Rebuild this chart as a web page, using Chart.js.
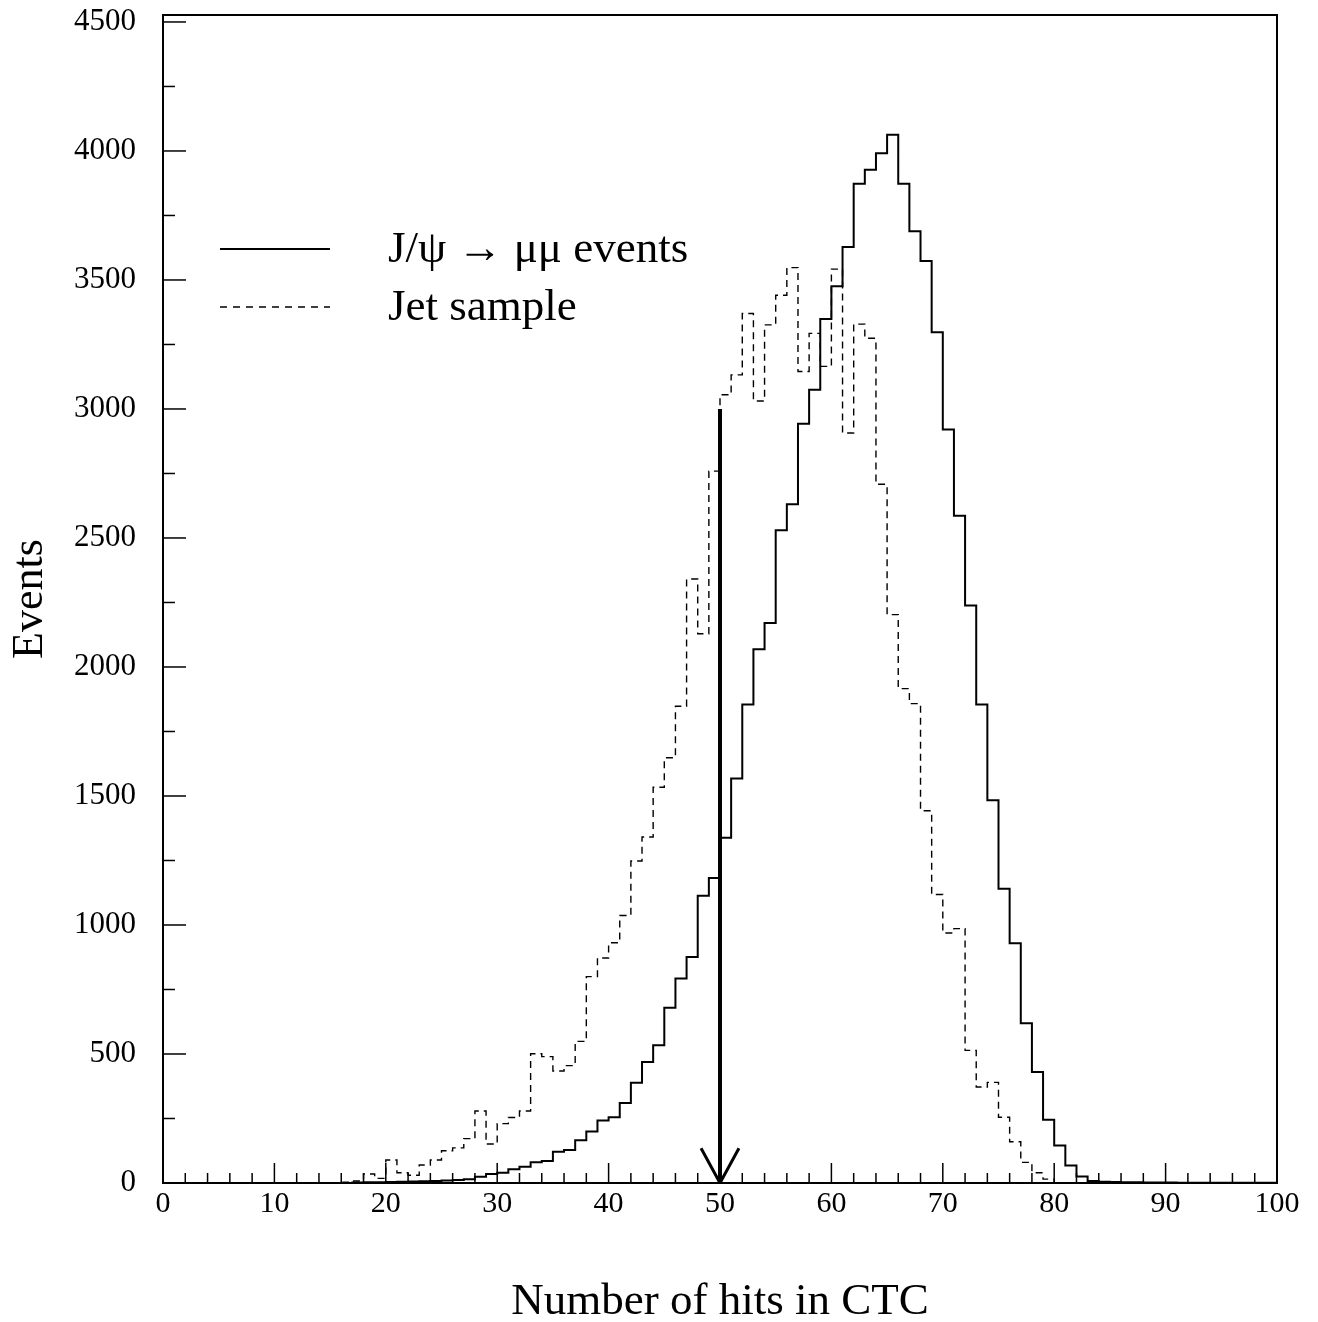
<!DOCTYPE html>
<html>
<head>
<meta charset="utf-8">
<script src="https://cdn.jsdelivr.net/npm/chart.js@4.4.1/dist/chart.umd.min.js"></script>
<style>
  html, body { margin: 0; padding: 0; background: #fff; }
  #wrap { width: 1318px; height: 1322px; position: relative; }
</style>
</head>
<body>
<div id="wrap"><canvas id="myChart"></canvas></div>
<script>
// bin low edges 0..99, one hit per bin
const binEdges = Array.from({ length: 101 }, (_, i) => i);

// J/psi -> mu mu events (solid)
const jpsiCounts = [
  0, 0, 0, 0, 0, 0, 0, 0, 0, 0,
  0, 0, 0, 0, 0, 0, 0, 2, 3, 3,
  4, 5, 6, 7, 8, 10, 12, 15, 24, 35,
  40, 53, 63, 80, 85, 121, 128, 166, 200, 242,
  255, 310, 389, 469, 534, 679, 793, 876, 1113, 1182,
  1338, 1568, 1855, 2069, 2170, 2530, 2631, 2943, 3075, 3349,
  3476, 3628, 3873, 3927, 3991, 4063, 3873, 3689, 3574, 3297,
  2920, 2586, 2238, 1855, 1483, 1140, 929, 619, 430, 245,
  145, 68, 25, 8, 5, 4, 3, 3, 2, 2,
  2, 1, 1, 1, 1, 1, 1, 1, 1, 1
];

// Jet sample (dashed)
const jetCounts = [
  0, 0, 0, 0, 0, 0, 0, 0, 0, 0,
  0, 0, 0, 0, 0, 0, 3, 8, 35, 18,
  89, 40, 30, 70, 89, 125, 136, 172, 279, 151,
  230, 254, 279, 501, 490, 434, 455, 549, 800, 872,
  931, 1037, 1248, 1341, 1534, 1648, 1848, 2341, 2129, 2759,
  3055, 3132, 3370, 3031, 3326, 3441, 3548, 3145, 3293, 3165,
  3542, 2907, 3329, 3274, 2708, 2203, 1916, 1858, 1443, 1118,
  969, 986, 514, 372, 390, 255, 160, 80, 40, 15,
  0, 0, 0, 0, 0, 0, 0, 0, 0, 0,
  0, 0, 0, 0, 0, 0, 0, 0, 0, 0
];

const xTickLabels = [0, 10, 20, 30, 40, 50, 60, 70, 80, 90, 100];
const yTickLabels = [0, 500, 1000, 1500, 2000, 2500, 3000, 3500, 4000, 4500];

// cut arrow at 50 hits
const cutX = [50, 50];
const cutY = [3000, 0];
const headX = [48.3, 50, 51.7];
const headY = [135, 0, 135];

const seriesNames = ['J/\u03C8 \u2192 \u03BC\u03BC events', 'Jet sample'];

function toSteps(counts) {
  return binEdges.map((x, i) => ({ x: x, y: counts[Math.min(i, counts.length - 1)] }));
}

const serif = '"Liberation Serif", "Times New Roman", "DejaVu Serif", serif';

const framePlugin = {
  id: 'framePlugin',
  afterDraw(chart) {
    const ctx = chart.ctx;
    const a = chart.chartArea;
    const xs = chart.scales.x;
    const ys = chart.scales.y;
    ctx.save();
    ctx.strokeStyle = '#000';
    ctx.lineWidth = 2;
    ctx.setLineDash([]);
    ctx.strokeRect(a.left, a.top, a.right - a.left, a.bottom - a.top);

    // inward ticks
    ctx.lineWidth = 1.5;
    for (let v = 0; v <= 100; v += 2) {
      const px = xs.getPixelForValue(v);
      const len = v % 10 === 0 ? 20 : 10;
      ctx.beginPath();
      ctx.moveTo(px, a.bottom);
      ctx.lineTo(px, a.bottom - len);
      ctx.stroke();
    }
    for (let v = 0; v <= 4500; v += 250) {
      const py = ys.getPixelForValue(v);
      const len = v % 500 === 0 ? 23 : 12;
      ctx.beginPath();
      ctx.moveTo(a.left, py);
      ctx.lineTo(a.left + len, py);
      ctx.stroke();
    }

    // legend
    ctx.lineWidth = 1.8;
    ctx.beginPath();
    ctx.moveTo(220, 249);
    ctx.lineTo(330, 249);
    ctx.stroke();
    ctx.lineWidth = 1.4;
    ctx.setLineDash([7, 6]);
    ctx.beginPath();
    ctx.moveTo(220, 307);
    ctx.lineTo(330, 307);
    ctx.stroke();
    ctx.setLineDash([]);
    ctx.fillStyle = '#000';
    ctx.font = '45px ' + serif;
    ctx.textAlign = 'left';
    ctx.textBaseline = 'alphabetic';
    ctx.fillText(seriesNames[0], 388, 262);
    ctx.fillText(seriesNames[1], 388, 320);
    ctx.restore();
  }
};

const ctx = document.getElementById('myChart').getContext('2d');
const myChart = new Chart(ctx, {
  type: 'line',
  data: {
    datasets: [
      {
        label: seriesNames[0],
        data: toSteps(jpsiCounts),
        stepped: true,
        borderColor: '#000',
        borderWidth: 2,
        pointRadius: 0,
        fill: false
      },
      {
        label: seriesNames[1],
        data: toSteps(jetCounts),
        stepped: true,
        borderColor: '#000',
        borderWidth: 1.4,
        borderDash: [7, 5],
        pointRadius: 0,
        fill: false
      },
      {
        label: 'cut',
        data: cutX.map((x, i) => ({ x: x, y: cutY[i] })),
        borderColor: '#000',
        borderWidth: 4,
        pointRadius: 0,
        fill: false
      },
      {
        label: 'head',
        data: headX.map((x, i) => ({ x: x, y: headY[i] })),
        borderColor: '#000',
        borderWidth: 3,
        pointRadius: 0,
        fill: false
      }
    ]
  },
  options: {
    responsive: true,
    maintainAspectRatio: false,
    animation: false,
    layout: { padding: { top: 15, right: 41, left: 0, bottom: 0 } },
    plugins: {
      legend: { display: false },
      tooltip: { enabled: false }
    },
    scales: {
      x: {
        type: 'linear',
        min: 0,
        max: 100,
        afterBuildTicks: (s) => { s.ticks = xTickLabels.map(v => ({ value: v })); },
        afterFit: (s) => { s.height = 139; s.paddingLeft = 0; s.paddingRight = 0; },
        grid: { display: false, drawTicks: false },
        border: { display: false },
        ticks: {
          color: '#000',
          padding: 3,
          maxRotation: 0,
          callback: (v) => String(v),
          font: { family: serif, size: 30 }
        },
        title: {
          display: true,
          text: 'Number of hits in CTC',
          color: '#000',
          padding: 0,
          font: { family: serif, size: 45, lineHeight: 0.9 }
        }
      },
      y: {
        type: 'linear',
        min: 0,
        max: 4527,
        afterBuildTicks: (s) => { s.ticks = yTickLabels.map(v => ({ value: v })); },
        afterFit: (s) => { s.width = 163; s.paddingTop = 0; s.paddingBottom = 0; },
        grid: { display: false, drawTicks: false },
        border: { display: false },
        ticks: {
          color: '#000',
          padding: 27,
          callback: (v) => String(v),
          font: { family: serif, size: 31 }
        },
        title: {
          display: true,
          text: 'Events',
          color: '#000',
          padding: { top: 8, bottom: 0 },
          font: { family: serif, size: 44, lineHeight: 1 }
        }
      }
    }
  },
  plugins: [framePlugin]
});
</script>
</body>
</html>
